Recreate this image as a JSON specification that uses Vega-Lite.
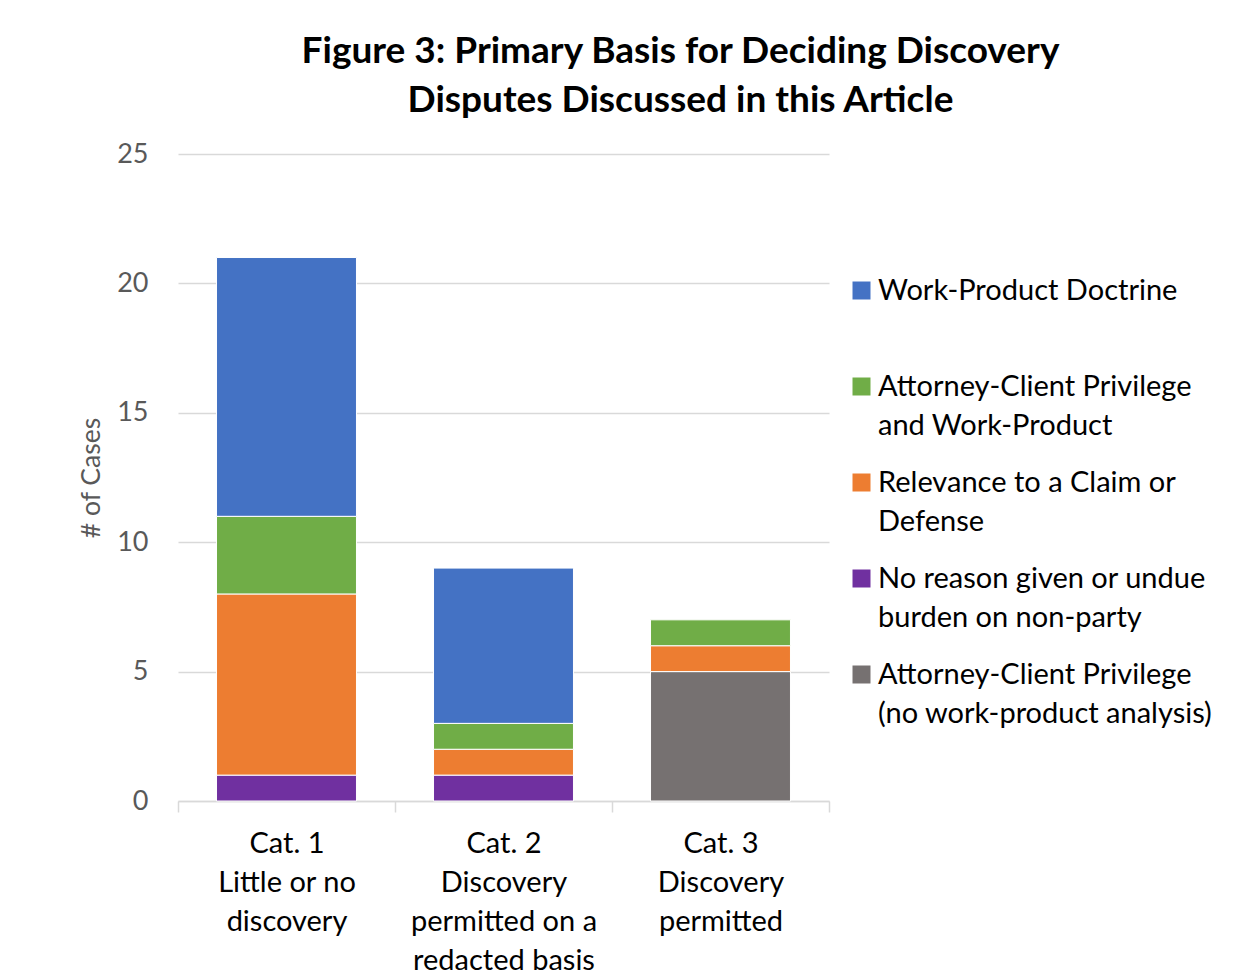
{
  "$schema": "https://vega.github.io/schema/vega-lite/v6.json",
  "width": 651,
  "height": 647,
  "autosize": {"type": "none"},
  "padding": {"left": 178, "top": 154, "right": 409, "bottom": 175},
  "background": "white",
  "title": {
    "text": ["Figure 3: Primary Basis for Deciding Discovery", "Disputes Discussed in this Article"],
    "anchor": "middle",
    "dx": 177,
    "offset": 20,
    "font": "Lato",
    "fontSize": 37,
    "fontWeight": "bold",
    "color": "#000000",
    "lineHeight": 49
  },
  "data": {
    "values": [
      {"cat": "Cat. 1|Little or no|discovery", "basis": "No reason given or undue|burden on non-party", "n": 1, "k": 1},
      {"cat": "Cat. 1|Little or no|discovery", "basis": "Relevance to a Claim or|Defense", "n": 7, "k": 2},
      {"cat": "Cat. 1|Little or no|discovery", "basis": "Attorney-Client Privilege|and Work-Product", "n": 3, "k": 3},
      {"cat": "Cat. 1|Little or no|discovery", "basis": "Work-Product Doctrine|", "n": 10, "k": 4},
      {"cat": "Cat. 2|Discovery|permitted on a|redacted basis", "basis": "No reason given or undue|burden on non-party", "n": 1, "k": 1},
      {"cat": "Cat. 2|Discovery|permitted on a|redacted basis", "basis": "Relevance to a Claim or|Defense", "n": 1, "k": 2},
      {"cat": "Cat. 2|Discovery|permitted on a|redacted basis", "basis": "Attorney-Client Privilege|and Work-Product", "n": 1, "k": 3},
      {"cat": "Cat. 2|Discovery|permitted on a|redacted basis", "basis": "Work-Product Doctrine|", "n": 6, "k": 4},
      {"cat": "Cat. 3|Discovery|permitted", "basis": "Attorney-Client Privilege|(no work-product analysis)", "n": 5, "k": 0},
      {"cat": "Cat. 3|Discovery|permitted", "basis": "Relevance to a Claim or|Defense", "n": 1, "k": 2},
      {"cat": "Cat. 3|Discovery|permitted", "basis": "Attorney-Client Privilege|and Work-Product", "n": 1, "k": 3}
    ]
  },
  "mark": {"type": "bar", "stroke": "white", "strokeWidth": 1, "width": {"band": 0.645}},
  "encoding": {
    "x": {
      "field": "cat",
      "type": "nominal",
      "sort": null,
      "scale": {"paddingInner": 0, "paddingOuter": 0},
      "axis": {
        "title": null,
        "labelAngle": 0,
        "labelExpr": "split(datum.label, '|')",
        "labelFont": "Lato",
        "labelFontSize": 29,
        "labelColor": "#000000",
        "labelBaseline": "top",
        "labelPadding": 17,
        "labelLimit": 300,
        "tickBand": "extent",
        "tickSize": 11,
        "tickColor": "#d9d9d9",
        "tickWidth": 1.5,
        "domainColor": "#d9d9d9",
        "domainWidth": 1.5
      }
    },
    "y": {
      "field": "n",
      "type": "quantitative",
      "aggregate": "sum",
      "stack": "zero",
      "scale": {"domain": [0, 25]},
      "axis": {
        "title": "# of Cases",
        "titleFont": "Lato",
        "titleFontSize": 26.5,
        "titleFontWeight": "normal",
        "titleColor": "#595959",
        "titlePadding": 11,
        "values": [0, 5, 10, 15, 20, 25],
        "labelFont": "Lato",
        "labelFontSize": 27,
        "labelColor": "#595959",
        "labelPadding": 30,
        "ticks": false,
        "domain": false,
        "gridColor": "#d9d9d9",
        "gridWidth": 1.5
      }
    },
    "color": {
      "field": "basis",
      "type": "nominal",
      "scale": {
        "domain": [
          "Work-Product Doctrine|",
          "Attorney-Client Privilege|and Work-Product",
          "Relevance to a Claim or|Defense",
          "No reason given or undue|burden on non-party",
          "Attorney-Client Privilege|(no work-product analysis)"
        ],
        "range": ["#4472C4", "#70AD47", "#ED7D31", "#7030A0", "#767171"]
      },
      "legend": {
        "title": null,
        "orient": "none",
        "legendX": 669,
        "legendY": 122,
        "labelExpr": "split(datum.label, '|')",
        "labelFont": "Lato",
        "labelFontSize": 29,
        "labelColor": "#000000",
        "labelLimit": 400,
        "labelOffset": 2,
        "symbolType": "square",
        "symbolSize": 324,
        "symbolStrokeWidth": 0,
        "rowPadding": 27
      }
    },
    "order": {"field": "k", "type": "quantitative", "sort": "ascending"}
  },
  "config": {
    "view": {"stroke": null},
    "style": {"guide-label": {"lineHeight": 39}}
  }
}
